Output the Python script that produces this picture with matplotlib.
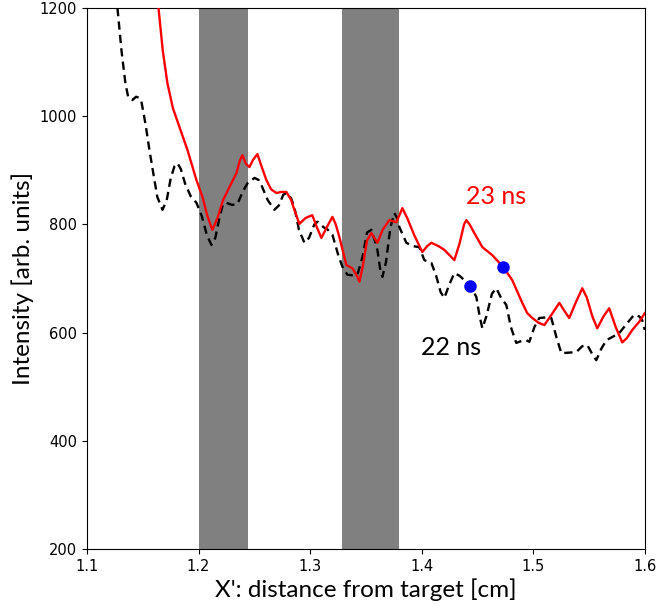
import matplotlib
matplotlib.use('Agg')
import matplotlib.pyplot as plt

# Perfil de intensidad a 22 ns (linea discontinua negra)
x_22ns = [1.1273, 1.1310, 1.1345, 1.1370, 1.1408, 1.1440, 1.1470, 1.1488, 1.1525,
          1.1560, 1.1630, 1.1677, 1.1715, 1.1750, 1.1785, 1.1811, 1.1840, 1.1880,
          1.1930, 1.1981, 1.2030, 1.2075, 1.2116, 1.2150, 1.2190, 1.2220, 1.2250,
          1.2300, 1.2349, 1.2400, 1.2439, 1.2502, 1.2540, 1.2565, 1.2620, 1.2680,
          1.2720, 1.2760, 1.2788, 1.2830, 1.2859, 1.2900, 1.2949, 1.2990, 1.3038,
          1.3066, 1.3120, 1.3160, 1.3200, 1.3250, 1.3289, 1.3334, 1.3380, 1.3424,
          1.3470, 1.3510, 1.3549, 1.3580, 1.3603, 1.3630, 1.3648, 1.3680, 1.3720,
          1.3755, 1.3780, 1.3800, 1.3863, 1.3920, 1.3979, 1.4024, 1.4087, 1.4130,
          1.4170, 1.4203, 1.4250, 1.4293, 1.4340, 1.4382, 1.4436, 1.4490, 1.4520,
          1.4544, 1.4580, 1.4630, 1.4669, 1.4710, 1.4759, 1.4800, 1.4848, 1.4900,
          1.4938, 1.4965, 1.5010, 1.5054, 1.5110, 1.5162, 1.5210, 1.5252, 1.5320,
          1.5386, 1.5440, 1.5485, 1.5530, 1.5565, 1.5610, 1.5655, 1.5710, 1.5771,
          1.5840, 1.5905, 1.5950, 1.5977, 1.6000]
y_22ns = [1200, 1120, 1060, 1035, 1030, 1036, 1034, 1027, 985,
          937, 851, 827, 845, 885, 908, 913, 903, 875,
          852, 840, 815, 780, 762, 775, 815, 838, 840,
          836, 838, 862, 876, 886, 882, 872, 845, 827,
          835, 855, 858, 848, 832, 790, 766, 775, 800,
          805, 795, 790, 781, 745, 722, 707, 706, 707,
          740, 785, 790, 770, 753, 715, 703, 730, 795,
          821, 812, 795, 766, 760, 758, 734, 729, 705,
          675, 664, 690, 710, 705, 697, 687, 666, 630,
          608, 630, 672, 682, 665, 651, 610, 581, 585,
          586, 583, 610, 627, 628, 627, 590, 562, 563,
          564, 575, 577, 560, 549, 570, 586, 592, 599,
          617, 633, 630, 623, 605]

# Perfil de intensidad a 23 ns (linea roja)
x_23ns = [1.1641, 1.1680, 1.1721, 1.1770, 1.1829, 1.1900, 1.1981, 1.2035, 1.2080,
          1.2124, 1.2170, 1.2220, 1.2277, 1.2340, 1.2370, 1.2393, 1.2425, 1.2456,
          1.2490, 1.2528, 1.2560, 1.2608, 1.2650, 1.2698, 1.2740, 1.2788, 1.2830,
          1.2859, 1.2904, 1.2960, 1.3020, 1.3060, 1.3101, 1.3150, 1.3200, 1.3230,
          1.3262, 1.3325, 1.3379, 1.3420, 1.3442, 1.3470, 1.3510, 1.3549, 1.3603,
          1.3650, 1.3710, 1.3773, 1.3827, 1.3870, 1.3934, 1.4006, 1.4050, 1.4087,
          1.4150, 1.4203, 1.4293, 1.4340, 1.4380, 1.4400, 1.4430, 1.4472, 1.4544,
          1.4634, 1.4732, 1.4812, 1.4902, 1.4946, 1.4992, 1.5050, 1.5100, 1.5170,
          1.5234, 1.5280, 1.5323, 1.5380, 1.5440, 1.5480, 1.5530, 1.5574, 1.5630,
          1.5681, 1.5740, 1.5798, 1.5840, 1.5888, 1.5950, 1.6000]
y_23ns = [1200, 1120, 1061, 1015, 980, 938, 882, 851, 815,
          790, 812, 845, 869, 895, 918, 928, 912, 906,
          920, 930, 910, 882, 865, 858, 860, 860, 845,
          827, 801, 812, 817, 795, 775, 795, 814, 800,
          777, 725, 719, 705, 694, 720, 770, 784, 766,
          790, 808, 804, 830, 812, 780, 749, 760, 766,
          760, 753, 734, 765, 800, 808, 800, 784, 758,
          743, 721, 697, 655, 636, 627, 618, 614, 635,
          655, 640, 627, 655, 682, 665, 630, 608, 630,
          645, 610, 582, 590, 605, 620, 636]

# Puntos marcados en cada perfil
x_puntos = [1.4436, 1.4732]
y_puntos = [687, 721]

# Zonas sombreadas
bandas = [(1.200, 1.244), (1.329, 1.380)]

fig = plt.figure(figsize=(6.57, 6.08), dpi=100)
ax = fig.add_axes([0.1324, 0.097, 0.849, 0.8898])

for x0, x1 in bandas:
    ax.axvspan(x0, x1, color='#808080', lw=0, zorder=1)

linea22, = ax.plot(x_22ns, y_22ns, color='black', ls='--', lw=1.7, zorder=2,
                   dash_joinstyle='round')
linea22.set_dashes((3.5, 2.2))
ax.plot(x_23ns, y_23ns, color='red', lw=1.7, zorder=3, solid_joinstyle='round')
ax.plot(x_puntos, y_puntos, 'o', color='blue', ms=8, zorder=4)

ax.text(1.467, 851, '23 ns', color='red', fontsize=18, family='Lato',
        ha='center', va='center')
ax.text(1.4266, 572, '22 ns', color='black', fontsize=18, family='Lato',
        ha='center', va='center')

ax.set_xlim(1.1, 1.6)
ax.set_ylim(200, 1200)
ax.set_xticks([1.1, 1.2, 1.3, 1.4, 1.5, 1.6])
ax.set_yticks([200, 400, 600, 800, 1000, 1200])
ax.tick_params(labelsize=10.5)
ax.set_xlabel("X': distance from target [cm]", fontsize=17.5, family='Lato', labelpad=3)
ax.set_ylabel('Intensity [arb. units]', fontsize=17.5, family='Lato', labelpad=4)

plt.savefig('out.png', dpi=100)
